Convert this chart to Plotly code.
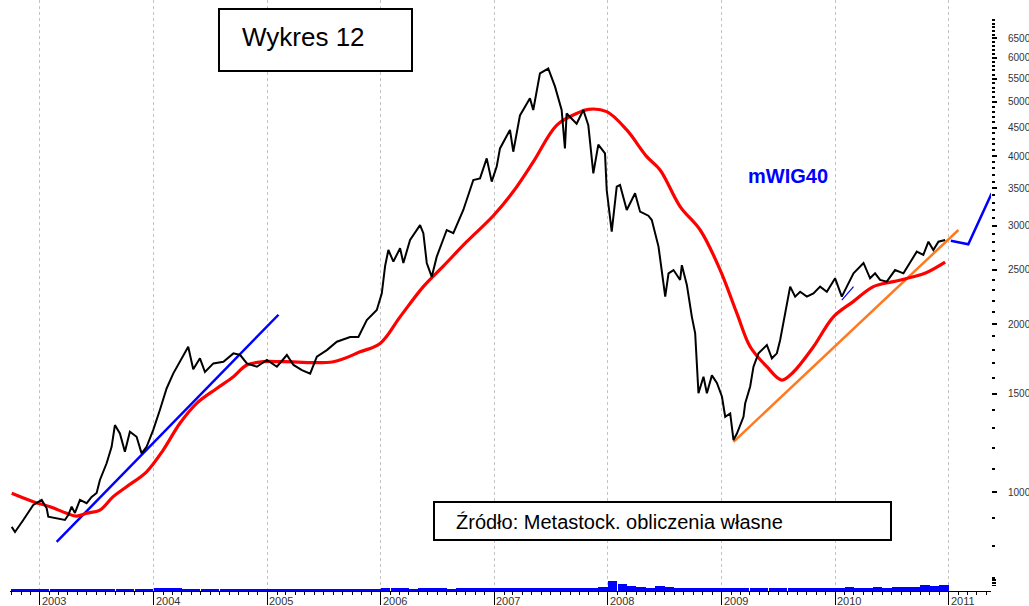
import pandas as pd
import plotly.graph_objects as go

# ---------------- data ----------------
# mWIG40 close (decimal year, index level)
price_t = [2002.751, 2002.780, 2002.853, 2002.941, 2003.015, 2003.059, 2003.073, 2003.147, 2003.220, 2003.249,
           2003.279, 2003.308, 2003.352, 2003.411, 2003.455, 2003.499, 2003.528, 2003.587, 2003.631, 2003.660,
           2003.704, 2003.748, 2003.792, 2003.851, 2003.895, 2003.939, 2003.997, 2004.056, 2004.115, 2004.173,
           2004.232, 2004.305, 2004.349, 2004.408, 2004.452, 2004.526, 2004.614, 2004.702, 2004.761, 2004.820,
           2004.908, 2004.996, 2005.084, 2005.172, 2005.230, 2005.304, 2005.377, 2005.436, 2005.524, 2005.612,
           2005.729, 2005.802, 2005.876, 2005.964, 2006.008, 2006.037, 2006.066, 2006.110, 2006.169, 2006.198,
           2006.257, 2006.345, 2006.374, 2006.404, 2006.448, 2006.492, 2006.580, 2006.638, 2006.726, 2006.814,
           2006.873, 2006.932, 2006.976, 2007.020, 2007.049, 2007.137, 2007.166, 2007.225, 2007.313, 2007.342,
           2007.401, 2007.474, 2007.533, 2007.592, 2007.621, 2007.636, 2007.724, 2007.783, 2007.827, 2007.871,
           2007.915, 2007.974, 2007.989, 2008.033, 2008.077, 2008.106, 2008.165, 2008.238, 2008.282, 2008.355,
           2008.385, 2008.444, 2008.503, 2008.532, 2008.576, 2008.634, 2008.649, 2008.693, 2008.737, 2008.766,
           2008.795, 2008.839, 2008.869, 2008.913, 2008.957, 2009.001, 2009.030, 2009.074, 2009.103, 2009.133,
           2009.191, 2009.206, 2009.250, 2009.279, 2009.323, 2009.397, 2009.441, 2009.485, 2009.514, 2009.558,
           2009.602, 2009.646, 2009.690, 2009.749, 2009.807, 2009.866, 2009.925, 2009.998, 2010.057, 2010.101,
           2010.160, 2010.248, 2010.306, 2010.350, 2010.394, 2010.453, 2010.526, 2010.600, 2010.658, 2010.717,
           2010.775, 2010.820, 2010.863, 2010.908, 2010.967]
price_v = [866, 848, 891, 948, 968, 935, 903, 897, 891, 909,
           941, 917, 968, 955, 980, 996, 1051, 1126, 1205, 1318,
           1273, 1181, 1282, 1256, 1173, 1205, 1291, 1403, 1533, 1630,
           1712, 1821, 1660, 1736, 1641, 1700, 1712, 1772, 1760, 1700,
           1677, 1724, 1677, 1760, 1689, 1654, 1630, 1748, 1796, 1859,
           1896, 1896, 2033, 2119, 2270, 2540, 2715, 2588, 2735, 2573,
           2829, 3008, 2910, 2573, 2430, 2641, 2948, 2910, 3202, 3624,
           3648, 3962, 3599, 3830, 4128, 4455, 4072, 4730, 5075, 4837,
           5626, 5740, 5331, 4837, 4128, 4767, 4571, 4837, 4541, 3723,
           4193, 4043, 3477, 2928, 3526, 3549, 3202, 3430, 3180, 3127,
           3072, 2753, 2239, 2465, 2499, 2399, 2550, 2350, 2060, 1925,
           1503, 1609, 1503, 1618, 1569, 1483, 1364, 1383, 1239, 1273,
           1364, 1442, 1546, 1677, 1772, 1834, 1736, 1772, 1872, 2090,
           2334, 2239, 2285, 2239, 2270, 2334, 2285, 2415, 2239, 2334,
           2465, 2573, 2415, 2465, 2399, 2382, 2499, 2465, 2573, 2696,
           2660, 2809, 2715, 2809, 2829]

# long moving average (red)
ma_t = [2002.751, 2002.941, 2003.088, 2003.235, 2003.323, 2003.411, 2003.528, 2003.645, 2003.763, 2003.939,
        2004.085, 2004.232, 2004.379, 2004.555, 2004.702, 2004.820, 2004.966, 2005.142, 2005.582, 2005.817,
        2005.993, 2006.169, 2006.374, 2006.550, 2006.756, 2006.990, 2007.166, 2007.342, 2007.548, 2007.724,
        2007.827, 2007.989, 2008.165, 2008.341, 2008.458, 2008.634, 2008.810, 2008.986, 2009.133, 2009.250,
        2009.397, 2009.529, 2009.631, 2009.807, 2009.983, 2010.160, 2010.335, 2010.511, 2010.687, 2010.805,
        2010.967]
ma_v = [995, 961, 941, 916, 905, 916, 928, 981, 1022, 1087,
        1189, 1328, 1442, 1533, 1609, 1689, 1712, 1712, 1712, 1783,
        1846, 2060, 2334, 2540, 2809, 3127, 3455, 3905, 4541, 4767,
        4851, 4804, 4455, 3990, 3777, 3247, 2948, 2499, 2090, 1821,
        1677, 1587, 1641, 1821, 2060, 2196, 2334, 2382, 2430, 2473,
        2581]

# trend lines
trend1_t = [2003.147, 2005.098]
trend1_v = [814, 2078]
trend2_t = [2010.057, 2010.160]
trend2_v = [2208, 2334]
orange_t = [2009.103, 2011.084]
orange_v = [1230, 2948]
proj_t = [2011.017, 2011.171, 2011.377]
proj_v = [2820, 2780, 3430]

# monthly volume (relative units), Oct 2002 - Dec 2010
vol_start = "2002-10-01"
vol = [20, 20, 20,
       20, 20, 20, 20, 20, 20, 22, 24, 22, 20, 20, 22,
       28, 30, 26, 22, 20, 20, 20, 20, 20, 22, 22, 22,
       20, 20, 20, 20, 20, 20, 22, 22, 22, 24, 24, 24,
       30, 28, 26, 24, 30, 34, 28, 24, 26, 28, 30, 32,
       30, 28, 30, 28, 30, 32, 30, 30, 28, 30, 34, 36,
       100, 70, 50, 40, 34, 48, 40, 34, 30, 32, 30, 28,
       26, 28, 30, 30, 30, 32, 30, 30, 30, 28, 28, 30,
       32, 36, 34, 34, 38, 34, 36, 40, 44, 60, 46, 58]

years = [2003, 2004, 2005, 2006, 2007, 2008, 2009, 2010, 2011]
ytick_vals = [1000, 1500, 2000, 2500, 3000, 3500, 4000, 4500, 5000, 5500, 6000, 6500]
minor_vals = [v for v in range(700, 7100, 100) if v not in ytick_vals]

title_text = "Wykres 12"
source_text = "Źródło: Metastock. obliczenia własne"
series_label = "mWIG40"


def dy(v):
    y = int(v)
    s = pd.Timestamp(y, 1, 1)
    e = pd.Timestamp(y + 1, 1, 1)
    return s + (e - s) * (v - y)


def dates(lst):
    return [dy(v) for v in lst]


# ---------------- layout helpers (pixel -> paper) ----------------
W, H = 1029, 606
ML, MR, MT, MB = 10, 38, 0, 15
PW, PH = W - ML - MR, H - MT - MB


def px(x):
    return (x - ML) / PW


def py(y):
    return (H - MB - y) / PH


FONT = "Liberation Sans, Arial, sans-serif"

fig = go.Figure()

vol_x = pd.date_range(vol_start, periods=len(vol), freq="MS")
fig.add_trace(go.Bar(x=vol_x, y=vol, yaxis="y2", marker=dict(color="#0000FF", line=dict(width=0)),
                     width=[30 * 24 * 3600 * 1000] * len(vol), offset=0, showlegend=False))

fig.add_trace(go.Scatter(x=dates(trend1_t), y=trend1_v, mode="lines",
                         line=dict(color="#0000FF", width=2.5), showlegend=False))
fig.add_trace(go.Scatter(x=dates(orange_t), y=orange_v, mode="lines",
                         line=dict(color="#FF7A1F", width=2.5), showlegend=False))
fig.add_trace(go.Scatter(x=dates(ma_t), y=ma_v, mode="lines", line_shape="spline",
                         line=dict(color="#FF0000", width=3.2), showlegend=False))
fig.add_trace(go.Scatter(x=dates(price_t), y=price_v, mode="lines",
                         line=dict(color="#000000", width=2.0), showlegend=False))
fig.add_trace(go.Scatter(x=dates(trend2_t), y=trend2_v, mode="lines",
                         line=dict(color="#0000FF", width=1.2), showlegend=False))
fig.add_trace(go.Scatter(x=dates(proj_t), y=proj_v, mode="lines", cliponaxis=False,
                         line=dict(color="#0000FF", width=2.5), showlegend=False))

shapes = [
    dict(type="rect", xref="paper", yref="paper", x0=px(219), x1=px(412), y0=py(71), y1=py(9),
         line=dict(color="black", width=2), fillcolor="white", layer="above"),
    dict(type="rect", xref="paper", yref="paper", x0=px(434), x1=px(891), y0=py(540), y1=py(502),
         line=dict(color="black", width=2), fillcolor="white", layer="above"),
]

annotations = [
    dict(text=title_text, xref="paper", yref="paper", x=px(240), y=py(37), xanchor="left", yanchor="middle",
         showarrow=False, font=dict(family=FONT, size=26, color="black")),
    dict(text=source_text, xref="paper", yref="paper", x=px(454), y=py(522), xanchor="left", yanchor="middle",
         showarrow=False, font=dict(family=FONT, size=20, color="black")),
    dict(text="<b>%s</b>" % series_label, xref="paper", yref="paper", x=px(788), y=py(176),
         xanchor="center", yanchor="middle", showarrow=False,
         font=dict(family=FONT, size=20, color="#0000FF")),
]
for yr in years:
    annotations.append(dict(text=str(yr), x=pd.Timestamp(yr, 1, 1), xref="x", y=0, yref="paper",
                            xanchor="left", yanchor="top", xshift=0, yshift=-2, showarrow=False,
                            font=dict(family=FONT, size=11, color="#333333")))

fig.update_layout(
    width=W, height=H,
    margin=dict(l=ML, r=MR, t=MT, b=MB, pad=0),
    paper_bgcolor="white", plot_bgcolor="rgba(0,0,0,0)",
    showlegend=False, bargap=0,
    shapes=shapes, annotations=annotations,
    font=dict(family=FONT, size=10, color="#333333"),
    xaxis=dict(type="date", range=[dy(2002.736), dy(2011.371)], automargin=False,
               tickmode="array", tickvals=[pd.Timestamp(y, 1, 1) for y in years],
               showticklabels=False, ticks="outside", ticklen=13, tickcolor="black", tickwidth=1,
               showgrid=True, gridcolor="#C4C4C4", griddash="dot", gridwidth=1,
               showline=True, linecolor="black", linewidth=1, zeroline=False,
               minor=dict(dtick="M1", tick0="2003-01-01", ticks="outside", ticklen=3,
                          tickcolor="black", showgrid=False)),
    yaxis=dict(type="log", range=[2.8226, 3.8817], side="right", automargin=False,
               tickmode="array", tickvals=ytick_vals, ticktext=[str(v) for v in ytick_vals],
               ticks="outside", ticklen=5, tickwidth=1.5, tickcolor="black", ticklabelstandoff=9,
               tickfont=dict(family=FONT, size=10, color="#333333"),
               showgrid=False, showline=False, zeroline=False,
               minor=dict(tickvals=minor_vals, ticks="outside", ticklen=3, tickcolor="black",
                          showgrid=False)),
    yaxis2=dict(overlaying="y", side="right", range=[0, 5910], automargin=False,
                tickmode="array", tickvals=[60, 75, 90, 105, 120], showticklabels=False,
                ticks="outside", ticklen=4, tickcolor="black",
                showgrid=False, showline=False, zeroline=False),
)

fig.write_html("out.html", config={"displayModeBar": False},
               post_script="document.body.style.margin='0';document.body.style.overflow='hidden';")
